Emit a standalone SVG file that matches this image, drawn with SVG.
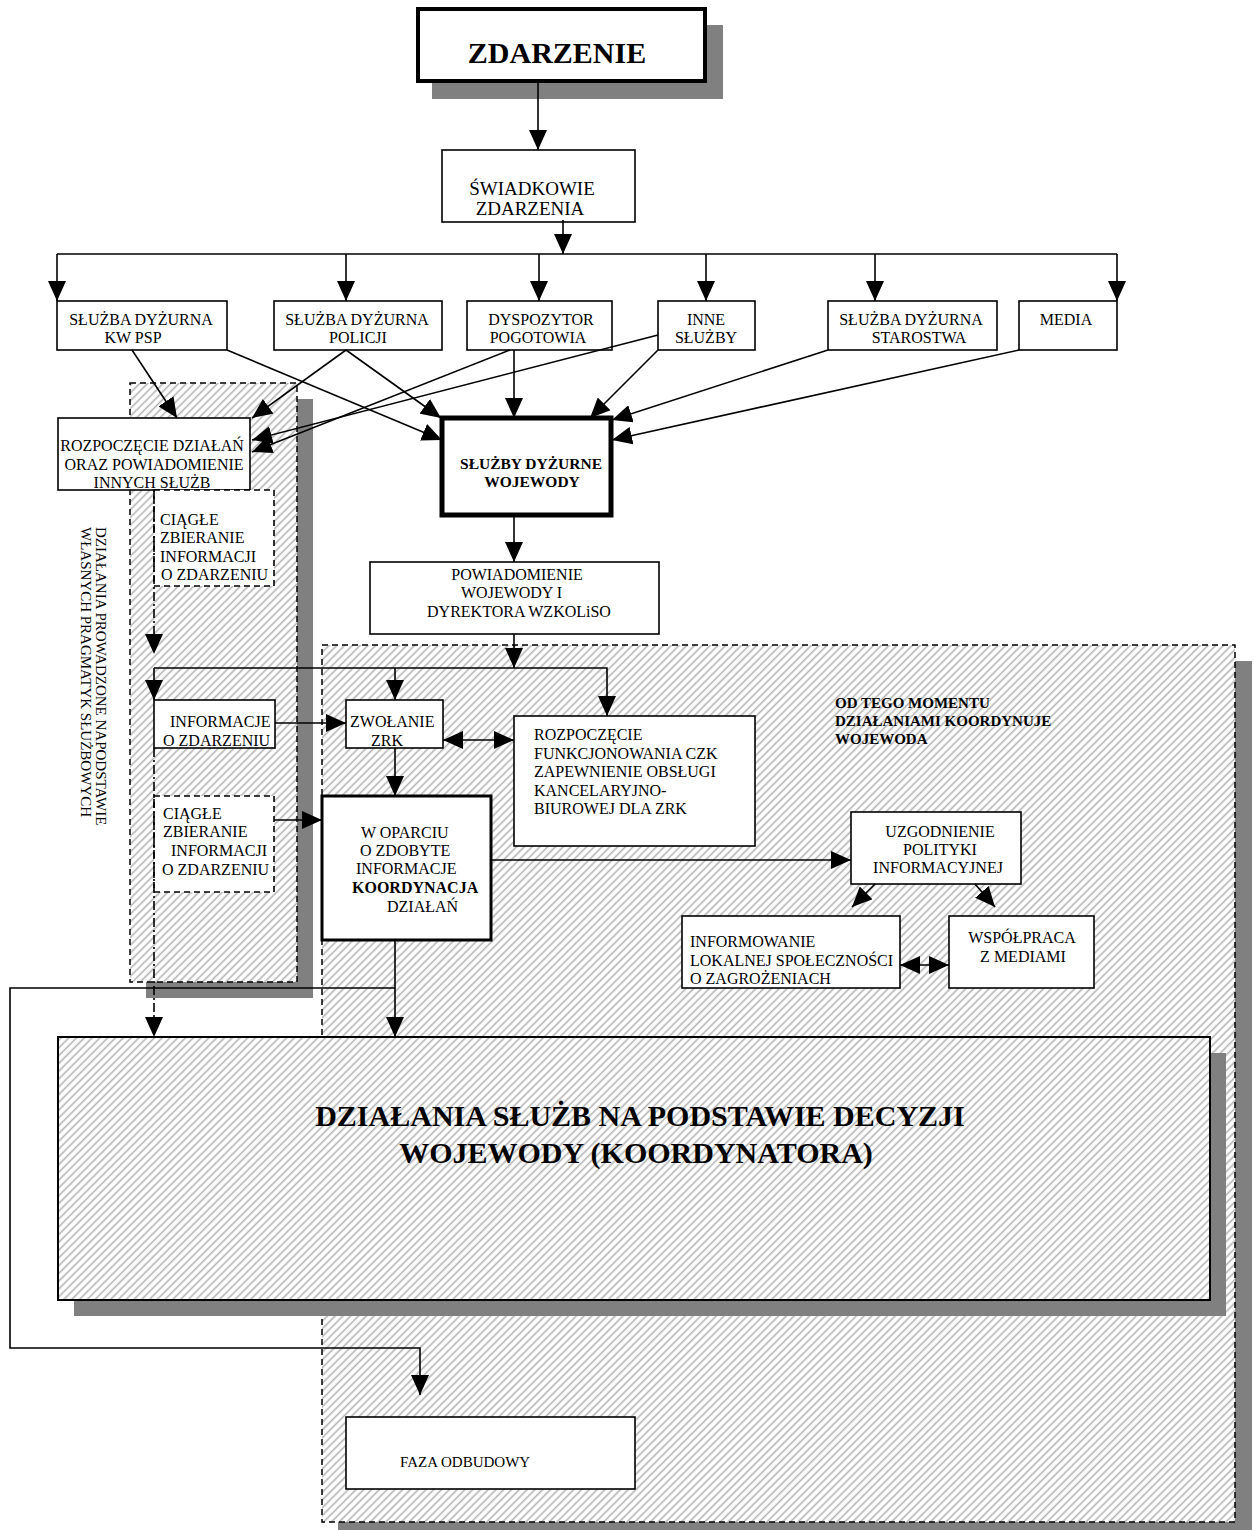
<svg xmlns="http://www.w3.org/2000/svg" width="1260" height="1530" viewBox="0 0 1260 1530">
<defs>
<style>
.t{font-family:"Liberation Serif","Times New Roman",serif;font-size:16px;fill:#000}
.b{font-weight:bold}
.m{text-anchor:middle}
.s15{font-size:15px}
.s155{font-size:15.5px}
.s19{font-size:19px}
.s30{font-size:30px}
.box{fill:#fff;stroke:#000;stroke-width:1.6}
.dbox{fill:#fff;stroke:#000;stroke-width:1.6;stroke-dasharray:6 4}
.shadow{fill:#808080;stroke:none}
.region{fill:url(#hatch);stroke:#000;stroke-width:1.5;stroke-dasharray:6 4}
.c{fill:none;stroke:#000;stroke-width:1.6}
.a{marker-end:url(#ah)}
.dd{stroke-dasharray:9 3 2 3}
.both{marker-start:url(#ah);marker-end:url(#ah)}
</style>
<pattern id="hatch" width="5.5" height="5.5" patternUnits="userSpaceOnUse" patternTransform="rotate(45)">
<rect x="0" y="0" width="5.5" height="5.5" fill="#fff"/>
<line x1="1.5" y1="0" x2="1.5" y2="5.5" stroke="#b4b4b4" stroke-width="1.6"/>
</pattern>
<marker id="ah" viewBox="0 0 20 18" refX="20" refY="9" markerWidth="20" markerHeight="18" markerUnits="userSpaceOnUse" orient="auto-start-reverse">
<path d="M0,0 L20,9 L0,18 z" fill="#000"/>
</marker>
</defs>

<g id="region-wojewoda">
<rect class="shadow" x="338" y="661" width="914" height="880"/>
<rect class="region" x="322" y="645" width="913" height="877"/>
</g>

<g id="region-pragmatyki">
<rect class="shadow" x="146" y="399" width="167" height="599"/>
<rect class="region" x="130" y="383" width="167" height="599"/>
<text class="t s15" transform="translate(96,527) rotate(90)">DZIAŁANIA PROWADZONE NAPODSTAWIE</text>
<text class="t s15" transform="translate(81,527) rotate(90)">WŁASNYCH PRAGMATYK SŁUŻBOWYCH</text>
</g>

<g id="node-dzialania">
<rect class="shadow" x="74" y="1053" width="1152" height="263"/>
<rect x="58" y="1037" width="1152" height="263" fill="url(#hatch)" stroke="#000" stroke-width="2"/>
<text class="t b m s30" x="640" y="1126">DZIAŁANIA SŁUŻB NA PODSTAWIE DECYZJI</text>
<text class="t b m s30" x="636" y="1163">WOJEWODY (KOORDYNATORA)</text>
</g>

<g id="node-zdarzenie">
<rect class="shadow" x="432" y="25" width="291" height="74"/>
<rect x="418" y="9" width="287" height="72" fill="#fff" stroke="#000" stroke-width="4"/>
<text class="t b m s30" x="557" y="63">ZDARZENIE</text>
</g>

<g id="node-swiadkowie">
<rect class="box" x="442" y="150" width="193" height="72"/>
<text class="t m s19" x="532" y="195">ŚWIADKOWIE</text>
<text class="t m s19" x="530" y="215">ZDARZENIA</text>
</g>

<g id="node-kwpsp">
<rect class="box" x="57" y="301" width="170" height="49"/>
<text class="t m" x="141" y="325">SŁUŻBA DYŻURNA</text>
<text class="t m" x="133" y="343">KW PSP</text>
</g>

<g id="node-policja">
<rect class="box" x="274" y="301" width="168" height="49"/>
<text class="t m" x="357" y="325">SŁUŻBA DYŻURNA</text>
<text class="t m" x="358" y="343">POLICJI</text>
</g>

<g id="node-pogotowie">
<rect class="box" x="467" y="301" width="145" height="49"/>
<text class="t m" x="541" y="325">DYSPOZYTOR</text>
<text class="t m" x="538" y="343">POGOTOWIA</text>
</g>

<g id="node-inne">
<rect class="box" x="658" y="301" width="97" height="49"/>
<text class="t m" x="706" y="325">INNE</text>
<text class="t m" x="706" y="343">SŁUŻBY</text>
</g>

<g id="node-starostwo">
<rect class="box" x="828" y="301" width="169" height="49"/>
<text class="t m" x="911" y="325">SŁUŻBA DYŻURNA</text>
<text class="t m" x="919" y="343">STAROSTWA</text>
</g>

<g id="node-media">
<rect class="box" x="1019" y="301" width="98" height="49"/>
<text class="t m" x="1066" y="325">MEDIA</text>
</g>

<g id="node-rozpoczecie">
<rect class="box" x="58" y="418" width="192" height="72"/>
<text class="t m" x="152" y="451">ROZPOCZĘCIE DZIAŁAŃ</text>
<text class="t m" x="154" y="470">ORAZ POWIADOMIENIE</text>
<text class="t m" x="152" y="488">INNYCH SŁUŻB</text>
</g>

<g id="node-ciagle1">
<rect class="dbox" x="154" y="490" width="120" height="96"/>
<text class="t" x="160" y="525">CIĄGŁE</text>
<text class="t" x="160" y="543">ZBIERANIE</text>
<text class="t" x="160" y="562">INFORMACJI</text>
<text class="t" x="161" y="580">O ZDARZENIU</text>
</g>

<g id="node-sdw">
<rect x="442" y="418" width="169" height="97" fill="#fff" stroke="#000" stroke-width="5"/>
<text class="t b m s155" x="531" y="469">SŁUŻBY DYŻURNE</text>
<text class="t b m s155" x="532" y="487">WOJEWODY</text>
</g>

<g id="node-powiadomienie">
<rect class="box" x="370" y="562" width="289" height="72"/>
<text class="t m" x="517" y="580">POWIADOMIENIE</text>
<text class="t" x="461" y="598">WOJEWODY I</text>
<text class="t m" x="519" y="617">DYREKTORA WZKOLiSO</text>
</g>

<g id="node-informacje">
<rect class="box" x="154" y="700" width="121" height="48"/>
<text class="t" x="170" y="727">INFORMACJE</text>
<text class="t" x="163" y="746">O ZDARZENIU</text>
</g>

<g id="node-zwolanie">
<rect class="box" x="346" y="700" width="97" height="48"/>
<text class="t" x="350" y="727">ZWOŁANIE</text>
<text class="t" x="371" y="746">ZRK</text>
</g>

<g id="node-czk">
<rect class="box" x="514" y="716" width="241" height="130"/>
<text class="t" x="534" y="740">ROZPOCZĘCIE</text>
<text class="t" x="534" y="759">FUNKCJONOWANIA CZK</text>
<text class="t" x="534" y="777">ZAPEWNIENIE OBSŁUGI</text>
<text class="t" x="534" y="796">KANCELARYJNO-</text>
<text class="t" x="534" y="814">BIUROWEJ DLA ZRK</text>
</g>

<g id="node-ciagle2">
<rect class="dbox" x="154" y="796" width="120" height="96"/>
<text class="t" x="163" y="819">CIĄGŁE</text>
<text class="t" x="163" y="837">ZBIERANIE</text>
<text class="t" x="171" y="856">INFORMACJI</text>
<text class="t" x="162" y="875">O ZDARZENIU</text>
</g>

<g id="node-koordynacja">
<rect x="322" y="796" width="169" height="144" fill="#fff" stroke="#000" stroke-width="3"/>
<text class="t" x="361" y="838">W OPARCIU</text>
<text class="t" x="360" y="856">O ZDOBYTE</text>
<text class="t" x="356" y="874">INFORMACJE</text>
<text class="t b" x="352" y="893">KOORDYNACJA</text>
<text class="t" x="387" y="912">DZIAŁAŃ</text>
</g>

<g id="label-od-tego-momentu">
<text class="t b s15" x="835" y="708">OD TEGO MOMENTU</text>
<text class="t b s15" x="835" y="726">DZIAŁANIAMI KOORDYNUJE</text>
<text class="t b s15" x="835" y="744">WOJEWODA</text>
</g>

<g id="node-uzgodnienie">
<rect class="box" x="851" y="812" width="170" height="72"/>
<text class="t m" x="940" y="837">UZGODNIENIE</text>
<text class="t m" x="940" y="855">POLITYKI</text>
<text class="t m" x="938" y="873">INFORMACYJNEJ</text>
</g>

<g id="node-informowanie">
<rect class="box" x="682" y="916" width="218" height="72"/>
<text class="t" x="690" y="947">INFORMOWANIE</text>
<text class="t" x="690" y="966">LOKALNEJ SPOŁECZNOŚCI</text>
<text class="t" x="690" y="984">O ZAGROŻENIACH</text>
</g>

<g id="node-wspolpraca">
<rect class="box" x="949" y="916" width="145" height="72"/>
<text class="t m" x="1022" y="943">WSPÓŁPRACA</text>
<text class="t m" x="1023" y="962">Z MEDIAMI</text>
</g>

<g id="node-faza">
<rect class="box" x="346" y="1417" width="289" height="72"/>
<text class="t s15" x="400" y="1467">FAZA ODBUDOWY</text>
</g>

<g id="connectors">
<path class="c a" d="M538,81 V150"/>
<path class="c a" d="M563,220 V254"/>
<path class="c" d="M57,254 H1117"/>
<path class="c a" d="M57,254 V301"/>
<path class="c a" d="M346,254 V301"/>
<path class="c a" d="M539,254 V301"/>
<path class="c a" d="M706,254 V301"/>
<path class="c a" d="M875,254 V301"/>
<path class="c a" d="M1117,254 V301"/>
<path class="c a" d="M132,350 L177,418"/>
<path class="c a" d="M227,350 L442,440"/>
<path class="c a" d="M346,350 L252,418"/>
<path class="c a" d="M346,350 L441,418"/>
<path class="c a" d="M510,350 L252,452"/>
<path class="c a" d="M514,350 V418"/>
<path class="c a" d="M658,335 L252,440"/>
<path class="c a" d="M658,350 L590,418"/>
<path class="c a" d="M828,350 L612,420"/>
<path class="c a" d="M1019,350 L612,440"/>
<path class="c a" d="M514,515 V562"/>
<path class="c a" d="M514,634 V668"/>
<path class="c a" d="M154,668 H607 V716"/>
<path class="c a" d="M395,668 V700"/>
<path class="c a" d="M154,668 V700"/>
<path class="c a dd" d="M154,490 V654"/>
<path class="c a" d="M275,723 H346"/>
<path class="c both" d="M443,740 H514"/>
<path class="c a" d="M395,748 V796"/>
<path class="c a" d="M274,820 H322"/>
<path class="c a dd" d="M154,748 V1037"/>
<path class="c a" d="M395,940 V1037"/>
<path class="c a" d="M395,988 H10 V1348 H420 V1395"/>
<path class="c a" d="M491,860 H851"/>
<path class="c a" d="M875,884 L852,907"/>
<path class="c a" d="M975,884 L995,907"/>
<path class="c both" d="M900,965 H949"/>
</g>
</svg>
